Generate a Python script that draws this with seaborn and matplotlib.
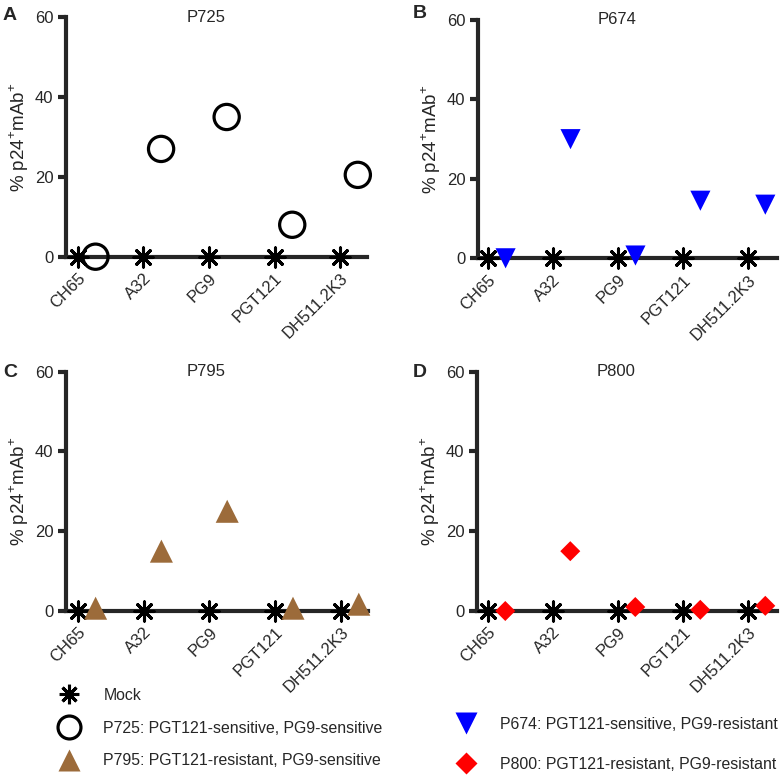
import matplotlib
matplotlib.use('Agg')
import matplotlib.pyplot as plt
import matplotlib.transforms as mtransforms
from matplotlib.lines import Line2D
import pandas as pd
import seaborn as sns

# data
categories = ['CH65', 'A32', 'PG9', 'PGT121', 'DH511.2K3']
mock = [0, 0, 0, 0, 0]
p725 = [0, 27, 35, 8, 20.5]
p674 = [0, 30, 0.7, 14.5, 13.5]
p795 = [0.7, 15, 25, 0.7, 1.7]
p800 = [0, 15, 1, 0.3, 1.3]

sns.set_style('ticks')
plt.rcParams['font.family'] = ['Liberation Sans', 'DejaVu Sans']
plt.rcParams['mathtext.fontset'] = 'custom'
plt.rcParams['mathtext.rm'] = 'Liberation Sans'

W = 783.0
fig = plt.figure(figsize=(7.83, 7.83), dpi=100)

# panel layout in pixels: left, y of zero line, width, height
panels = [
    ('A', 'P725', p725, dict(marker='o', s=330, facecolor='none', edgecolor='black', linewidth=2.3),
     (66, 256.7, 301, 239.5), (-0.18, 4.41), (3, 15)),
    ('B', 'P674', p674, dict(marker='v', s=210, color='#0000FF', edgecolor='none'),
     (478, 258.3, 299, 238.3), (-0.155, 4.45), (413, 13)),
    ('C', 'P795', p795, dict(marker='^', s=275, color='#9C6B3A', edgecolor='none'),
     (66, 611, 302, 239.3), (-0.18, 4.41), (3, 373)),
    ('D', 'P800', p800, dict(marker='D', s=104, color='#FF0000', edgecolor='none'),
     (477, 611, 300, 239.3), (-0.165, 4.45), (413, 373)),
]

star = (8, 2, 0)
offset = 0.27
for letter, title, values, style, (l, y0, w, h), xlim, (lx, ly) in panels:
    ax = fig.add_axes([l / W, 1 - y0 / W, w / W, h / W])
    df = pd.DataFrame({'pos': range(len(categories)), 'mock': mock, 'value': values})
    df['pos_s'] = df['pos'] + offset

    sns.scatterplot(data=df, x='pos', y='mock', marker=star, s=190,
                    color='black', linewidth=2.2, ax=ax, clip_on=False, zorder=4)
    sns.scatterplot(data=df, x='pos_s', y='value', ax=ax, clip_on=False, zorder=5,
                    legend=False, **style)
    if style.get('facecolor') == 'none':
        ax.collections[-1].set_facecolor('none')
        ax.collections[-1].set_edgecolor('black')

    ax.set_xlim(*xlim)
    ax.set_ylim(0, 60)
    ax.set_yticks([0, 20, 40, 60])
    ax.set_xticks(range(len(categories)))
    ax.set_xticklabels(categories, rotation=45, ha='right', va='top',
                       rotation_mode='anchor', fontsize=12)
    for lab in ax.get_xticklabels():
        lab.set_transform(lab.get_transform() +
                          mtransforms.ScaledTranslation(0.10, 0, fig.dpi_scale_trans))
    ax.tick_params(axis='y', length=6, width=3, labelsize=12, pad=3)
    ax.tick_params(axis='x', length=0, pad=10)
    sns.despine(ax=ax)
    for side in ['left', 'bottom']:
        ax.spines[side].set_linewidth(3)
        ax.spines[side].set_capstyle('projecting')
    ax.set_xlabel('')
    ax.set_ylabel('% p24$^{\\mathregular{+}}$mAb$^{\\mathregular{+}}$', fontsize=13.5, labelpad=3)
    ax.text(0.465, 1.0, title, transform=ax.transAxes, ha='center', va='center', fontsize=12)
    fig.text(lx / W, 1 - ly / W, letter, fontsize=14, fontweight='bold', ha='left', va='center')

# legends
left_handles = [
    Line2D([], [], ls='none', marker=star, ms=14, mec='black', mew=2.2, color='black'),
    Line2D([], [], ls='none', marker='o', ms=16.5, mfc='none', mec='black', mew=2.3),
    Line2D([], [], ls='none', marker='^', ms=16.5, color='#9C6B3A', mec='none'),
]
left_labels = ['Mock', 'P725: PGT121-sensitive, PG9-sensitive',
               'P795: PGT121-resistant, PG9-sensitive']
right_handles = [
    Line2D([], [], ls='none', marker='v', ms=15.6, color='#0000FF', mec='none'),
    Line2D([], [], ls='none', marker='D', ms=10.7, color='#FF0000', mec='none'),
]
right_labels = ['P674: PGT121-sensitive, PG9-resistant',
                'P800: PGT121-resistant, PG9-resistant']

kw = dict(loc='upper left', frameon=False, fontsize=11.4, borderpad=0, borderaxespad=0,
          handlelength=1.5, handletextpad=1.4)
leg1 = fig.legend(left_handles, left_labels, bbox_to_anchor=(57.5 / W, 1 - 688 / W),
                  labelspacing=1.12, **kw)
leg2 = fig.legend(right_handles, right_labels, bbox_to_anchor=(454.5 / W, 1 - 717 / W),
                  labelspacing=1.55, **kw)

fig.savefig('out.png', dpi=100)
